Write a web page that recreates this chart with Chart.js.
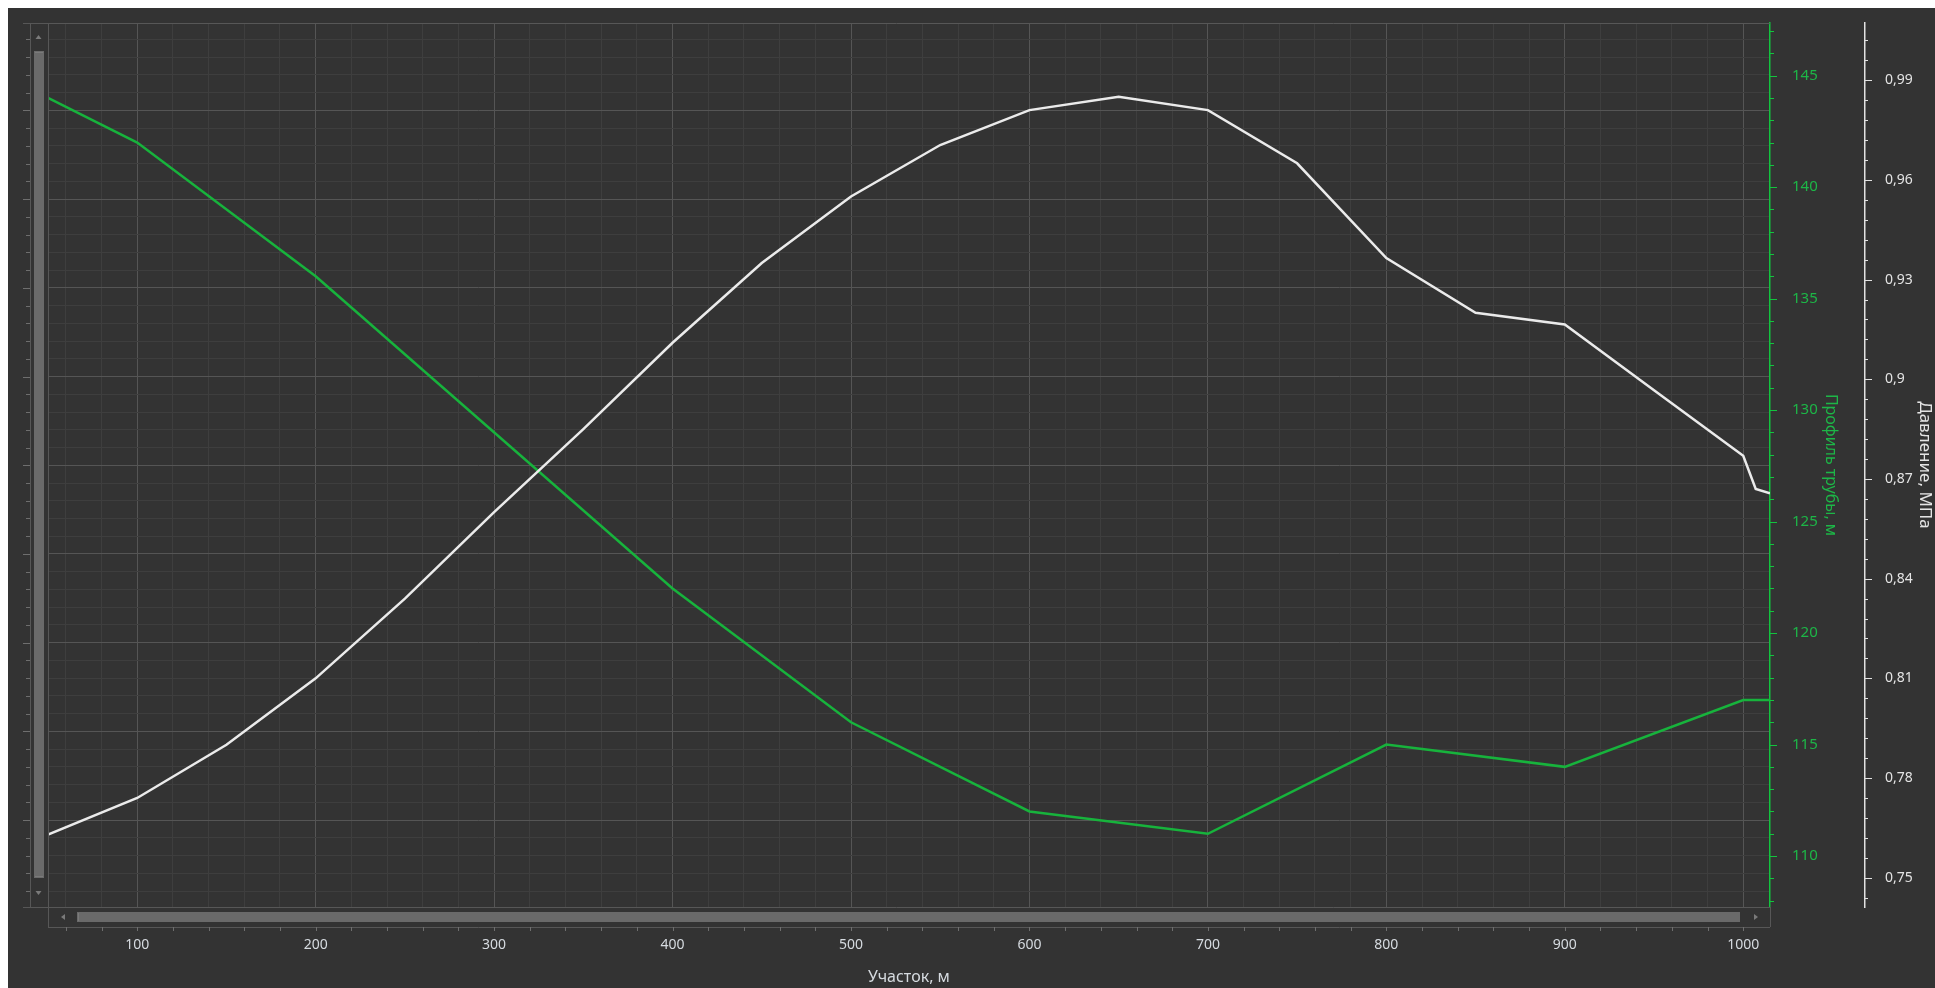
<!DOCTYPE html>
<html>
<head>
<meta charset="utf-8">
<script src="https://cdn.jsdelivr.net/npm/chart.js@4.4.1/dist/chart.umd.min.js"></script>
<style>
  html, body { margin: 0; padding: 0; background: #fff; overflow: hidden; }
  canvas { display: block; }
</style>
</head>
<body>
<canvas id="pipeChart" width="1935" height="988"></canvas>
<script>
// Профиль трубы (green), m
const profileX = [50, 100, 200, 400, 500, 600, 700, 800, 900, 1000, 1015];
const profileY = [144, 142, 136, 122, 116, 112, 111, 115, 114, 117, 117];

// Давление (white), MPa
const pressureX = [50, 100, 150, 200, 250, 300, 350, 400, 450, 500, 550, 600, 650, 700, 750, 800, 850, 900, 950, 1000, 1007, 1015];
const pressureY = [0.763, 0.774, 0.790, 0.810, 0.834, 0.860, 0.885, 0.911, 0.935, 0.955, 0.9705, 0.981, 0.985, 0.981, 0.965, 0.9365, 0.920, 0.9165, 0.8967, 0.877, 0.867, 0.8657];

// axis ranges / steps
const xRange = [50, 1015];
const profileRange = [107.715, 147.36];
const pressureRange = [0.74119, 1.00722];
const xMinorStep = 20, xMajorStep = 100;
const profileMajor = 5, profileMinor = 1;
const pressureMajor = 0.03, pressureMinor = 0.006;

const BG = '#333333';
const GRID_MINOR = '#3e3e3e';
const GRID_MAJOR = '#555555';
const FRAME = '#575757';
const GREEN_LINE = '#17b33c';
const GREEN_AXIS = '#12c43e';
const GREEN_TEXT = '#1db647';
const WHITE_LINE = '#ebebeb';
const TEXT = '#d6dbe0';
const FONT = "'Segoe UI', 'Noto Sans', 'DejaVu Sans', sans-serif";

Chart.defaults.font.family = FONT;

function line(ctx, x1, y1, x2, y2) {
    ctx.beginPath();
    ctx.moveTo(x1, y1);
    ctx.lineTo(x2, y2);
    ctx.stroke();
}

function tri(ctx, pts) {
    ctx.beginPath();
    ctx.moveTo(pts[0], pts[1]);
    ctx.lineTo(pts[2], pts[3]);
    ctx.lineTo(pts[4], pts[5]);
    ctx.closePath();
    ctx.fill();
}

// background, scrollbars, frame and tick marks
const decor = {
    id: 'decor',
    beforeDraw(chart) {
        const ctx = chart.ctx;
        ctx.save();
        ctx.fillStyle = '#ffffff';
        ctx.fillRect(0, 0, chart.width, chart.height);
        ctx.fillStyle = BG;
        ctx.fillRect(8, 8, chart.width - 8, chart.height - 8);
        ctx.restore();
    },
    afterDraw(chart) {
        const ctx = chart.ctx;
        const a = chart.chartArea;
        const s = chart.scales;
        const sbLeft = 30;
        ctx.save();
        ctx.lineWidth = 1;

        // frame
        ctx.strokeStyle = FRAME;
        line(ctx, 23, a.top + 0.5, a.right, a.top + 0.5);
        line(ctx, sbLeft + 0.5, a.top, sbLeft + 0.5, a.bottom);
        line(ctx, a.left + 0.5, a.top, a.left + 0.5, a.bottom + 20);
        line(ctx, 23, a.bottom + 0.5, a.right, a.bottom + 0.5);
        line(ctx, a.left, a.bottom + 20.5, a.right, a.bottom + 20.5);
        line(ctx, a.right + 0.5, a.bottom, a.right + 0.5, a.bottom + 20);

        // left ticks of the grid axis
        ctx.strokeStyle = '#6e6e6e';
        s.g.ticks.forEach(t => {
            const y = Math.round(s.g.getPixelForValue(t.value)) + 0.5;
            const len = t.value % 5 === 0 ? 7 : 4;
            line(ctx, sbLeft - len, y, sbLeft, y);
        });

        // vertical scrollbar
        ctx.fillStyle = '#6a6a6a';
        ctx.fillRect(34, 51, 10, a.bottom - 29 - 51);
        ctx.fillStyle = '#7a7a7a';
        ctx.fillRect(35, 52, 8, 1);
        ctx.fillRect(35, a.bottom - 31, 8, 1);
        tri(ctx, [35.5, 39, 41.5, 39, 38.5, 35]);
        tri(ctx, [35.5, 891, 41.5, 891, 38.5, 895]);

        // horizontal scrollbar
        ctx.fillStyle = '#6a6a6a';
        ctx.fillRect(77, a.bottom + 5, a.right - 30 - 77, 10);
        ctx.fillStyle = '#7a7a7a';
        ctx.fillRect(78, a.bottom + 6, 1, 8);
        tri(ctx, [65, a.bottom + 7, 65, a.bottom + 13, 61, a.bottom + 10]);
        tri(ctx, [a.right - 16, a.bottom + 7, a.right - 16, a.bottom + 13, a.right - 12, a.bottom + 10]);

        // x tick marks under the scrollbar
        ctx.strokeStyle = '#6e6e6e';
        s.x.ticks.forEach(t => {
            const x = Math.round(s.x.getPixelForValue(t.value)) + 0.5;
            line(ctx, x, a.bottom + 20, x, a.bottom + 24);
        });

        // profile axis ticks
        ctx.strokeStyle = GREEN_AXIS;
        for (let v = Math.ceil(profileRange[0]); v <= profileRange[1]; v += profileMinor) {
            const y = Math.round(s.y.getPixelForValue(v)) + 0.5;
            line(ctx, a.right, y, a.right + (v % profileMajor === 0 ? 7 : 4), y);
        }

        // pressure axis ticks
        ctx.strokeStyle = '#e2e2e2';
        const px = s.p.left;
        for (let k = Math.ceil(pressureRange[0] / pressureMinor); k * pressureMinor <= pressureRange[1]; k++) {
            const y = Math.round(s.p.getPixelForValue(k * pressureMinor)) + 0.5;
            line(ctx, px, y, px + (k % 5 === 0 ? 7 : 3), y);
        }
        ctx.restore();
    }
};

const pressureData = pressureX.map((x, i) => ({ x: x, y: pressureY[i] }));
const profileData = profileX.map((x, i) => ({ x: x, y: profileY[i] }));

const config = {
    type: 'line',
    data: {
        datasets: [{
            label: 'Давление, МПа',
            data: pressureData,
            yAxisID: 'p',
            borderColor: WHITE_LINE,
            borderWidth: 2.5,
            pointRadius: 0,
            tension: 0
        }, {
            label: 'Профиль трубы, м',
            data: profileData,
            yAxisID: 'y',
            borderColor: GREEN_LINE,
            borderWidth: 2.5,
            pointRadius: 0,
            tension: 0
        }]
    },
    options: {
        responsive: false,
        animation: false,
        layout: { padding: { left: 48, top: 22, right: 0, bottom: 0 } },
        plugins: { legend: { display: false }, tooltip: { enabled: false } },
        scales: {
            x: {
                type: 'linear',
                position: 'bottom',
                min: xRange[0],
                max: xRange[1],
                grid: {
                    drawTicks: false,
                    color: c => (c.tick && c.tick.value % xMajorStep === 0) ? GRID_MAJOR : GRID_MINOR
                },
                border: { display: false },
                ticks: {
                    stepSize: xMinorStep,
                    includeBounds: false,
                    autoSkip: false,
                    maxRotation: 0,
                    padding: 30,
                    color: TEXT,
                    font: { size: 14 },
                    callback: v => v % xMajorStep === 0 ? String(v) : ''
                },
                title: {
                    display: true,
                    text: 'Участок, м',
                    color: TEXT,
                    font: { size: 16 },
                    padding: { top: 0, bottom: 1 }
                },
                afterFit: sc => { sc.height = 81; }
            },
            g: {
                type: 'linear',
                position: 'left',
                min: -4.9,
                max: 44.93,
                grid: {
                    drawTicks: false,
                    color: c => (c.tick && c.tick.value % 5 === 0) ? GRID_MAJOR : GRID_MINOR
                },
                border: { display: false },
                ticks: { display: false },
                afterBuildTicks: sc => {
                    const t = [];
                    for (let v = -4; v <= 44; v++) t.push({ value: v });
                    sc.ticks = t;
                },
                afterFit: sc => { sc.width = 0; }
            },
            y: {
                type: 'linear',
                position: 'right',
                weight: 0,
                min: profileRange[0],
                max: profileRange[1],
                grid: { display: false, drawOnChartArea: false },
                border: { display: true, color: GREEN_AXIS, width: 1.5 },
                ticks: {
                    stepSize: profileMajor,
                    includeBounds: false,
                    padding: 14,
                    color: GREEN_TEXT,
                    font: { size: 15 }
                },
                title: {
                    display: true,
                    text: 'Профиль трубы, м',
                    color: GREEN_TEXT,
                    font: { size: 16 },
                    padding: { top: 25, bottom: 0 }
                },
                afterFit: sc => { sc.width = 95; }
            },
            p: {
                type: 'linear',
                position: 'right',
                weight: 1,
                min: pressureRange[0],
                max: pressureRange[1],
                grid: { display: false, drawOnChartArea: false },
                border: { display: true, color: '#e2e2e2', width: 1.5 },
                ticks: {
                    stepSize: pressureMajor,
                    includeBounds: false,
                    padding: 12,
                    color: '#e4e4e4',
                    font: { size: 14 },
                    callback: v => String(+v.toFixed(2)).replace('.', ',')
                },
                title: {
                    display: true,
                    text: 'Давление, МПа',
                    color: '#e4e4e4',
                    font: { size: 17 },
                    padding: { top: 0, bottom: 0 }
                },
                afterFit: sc => { sc.width = 70; }
            }
        }
    },
    plugins: [decor]
};

const pipeChart = new Chart(document.getElementById('pipeChart'), config);
</script>
</body>
</html>
